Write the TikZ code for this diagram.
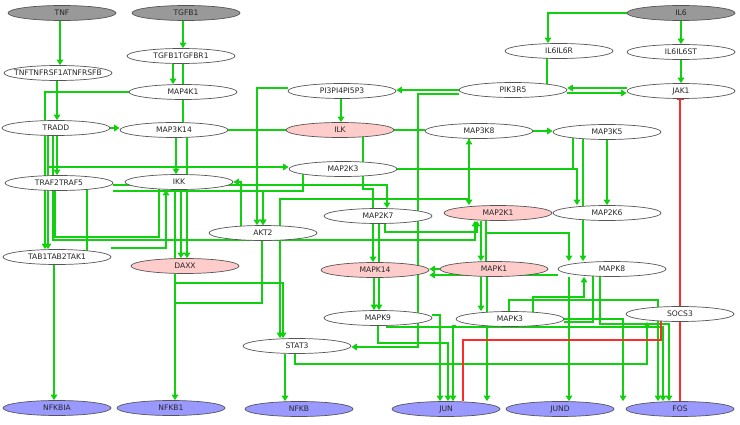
\documentclass[tikz,border=0pt]{standalone}
\usepackage{fontspec}
\setmainfont{DejaVu Sans}
\usetikzlibrary{arrows.meta, shapes.geometric, backgrounds}
\definecolor{cgreen}{HTML}{10D010}
\definecolor{cred}{HTML}{FF2A2A}
\definecolor{cinput}{HTML}{999999}
\definecolor{chit}{HTML}{FFCCCC}
\definecolor{ctarget}{HTML}{9999FF}
\definecolor{cline}{HTML}{555555}
\newcommand{\genelabel}[1]{\makebox[0pt]{#1}}
\tikzset{
  every picture/.style={x=1pt, y=-1pt},
  gene/.style={ellipse, draw=cline, line width=0.7pt, fill=#1, minimum width=108pt, minimum height=15pt,
    inner sep=0pt, font=\fontsize{7.6}{8}\selectfont, text=black!85},
  gene/.default=white,
  act/.style={-{Triangle[length=5.5pt, width=6.5pt]}, draw=cgreen, line width=1.4pt},
  dual/.style={act, {Triangle[length=5.5pt, width=6.5pt]}-{Triangle[length=5.5pt, width=6.5pt]}},
  link/.style={draw=cgreen, line width=1.4pt},
  inh/.style={-{Bar[width=7pt]}, draw=cred, line width=1.4pt},
  repress/.style={draw=cred, line width=1.4pt},
}
\begin{document}
\begin{tikzpicture}
  \useasboundingbox (0,0) rectangle (740,425);
  % ligands and receptors
  \node[gene=cinput] (tnf) at (62,13) {\genelabel{TNF}};
  \node[gene=cinput] (tgfb1) at (186,13) {\genelabel{TGFB1}};
  \node[gene=cinput] (il6) at (681,13) {\genelabel{IL6}};
  \node[gene] (tgfbr) at (181,56) {\genelabel{TGFB1TGFBR1}};
  \node[gene] (il6r) at (559,51) {\genelabel{IL6IL6R}};
  \node[gene] (il6st) at (681,52) {\genelabel{IL6IL6ST}};
  \node[gene] (tnfr) at (58,73) {\genelabel{TNFTNFRSF1ATNFRSFB}};
  \node[gene] (map4k1) at (183,92) {\genelabel{MAP4K1}};
  \node[gene] (pip3) at (342,91) {\genelabel{PI3PI4PI5P3}};
  \node[gene] (pik3r5) at (513,90) {\genelabel{PIK3R5}};
  \node[gene] (jak1) at (681,91) {\genelabel{JAK1}};
  % kinases
  \node[gene] (tradd) at (56,128) {\genelabel{TRADD}};
  \node[gene] (map3k14) at (174,130) {\genelabel{MAP3K14}};
  \node[gene=chit] (ilk) at (340,130) {\genelabel{ILK}};
  \node[gene] (map3k8) at (479,131) {\genelabel{MAP3K8}};
  \node[gene] (map3k5) at (607,132) {\genelabel{MAP3K5}};
  \node[gene] (map2k3) at (343,169) {\genelabel{MAP2K3}};
  \node[gene] (traf) at (59,183) {\genelabel{TRAF2TRAF5}};
  \node[gene] (ikk) at (179,182) {\genelabel{IKK}};
  \node[gene] (map2k7) at (378,216) {\genelabel{MAP2K7}};
  \node[gene=chit] (map2k1) at (498,213) {\genelabel{MAP2K1}};
  \node[gene] (map2k6) at (607,213) {\genelabel{MAP2K6}};
  \node[gene] (akt2) at (263,233) {\genelabel{AKT2}};
  \node[gene] (tab) at (57,257) {\genelabel{TAB1TAB2TAK1}};
  \node[gene=chit] (daxx) at (185,266) {\genelabel{DAXX}};
  \node[gene=chit] (mapk14) at (375,270) {\genelabel{MAPK14}};
  \node[gene=chit] (mapk1) at (494,269) {\genelabel{MAPK1}};
  \node[gene] (mapk8) at (612,269) {\genelabel{MAPK8}};
  \node[gene] (socs3) at (680,314) {\genelabel{SOCS3}};
  \node[gene] (mapk9) at (378,318) {\genelabel{MAPK9}};
  \node[gene] (mapk3) at (510,319) {\genelabel{MAPK3}};
  \node[gene] (stat3) at (297,346) {\genelabel{STAT3}};
  % targets
  \node[gene=ctarget] (nfkbia) at (57,408) {\genelabel{NFKBIA}};
  \node[gene=ctarget] (nfkb1) at (171,408) {\genelabel{NFKB1}};
  \node[gene=ctarget] (nfkb) at (299,409) {\genelabel{NFKB}};
  \node[gene=ctarget] (jun) at (446,409) {\genelabel{JUN}};
  \node[gene=ctarget] (jund) at (560,409) {\genelabel{JUND}};
  \node[gene=ctarget] (fos) at (680,409) {\genelabel{FOS}};

  \begin{scope}[on background layer]
    % receptor level
    \draw[act] (60,0 |- tnf.south) -- (60,0 |- tnfr.north);
    \draw[act] (183,0 |- tgfb1.south) -- (183,0 |- tgfbr.north);
    \draw[act] (il6.west) -| (548,0 |- il6r.north);
    \draw[act] (il6) -- (il6st);
    \draw[act] (il6st) -- (jak1);
    \draw[link] (547,0 |- il6r) -- (547,0 |- pik3r5);
    \draw[act] (jak1.west |- 0,88) -- (pik3r5.east |- 0,88);
    \draw[act] (pik3r5.east |- 0,93) -- (jak1.west |- 0,93);
    \draw[act] (pik3r5.west) -- (pip3.east |- pik3r5.west);
    \draw[act] (pik3r5.west |- 0,94) -| (418,347) -- (stat3.east |- 0,347);
    \draw[act] (341,0 |- pip3.south) -- (341,0 |- ilk.north);
    \draw[act] (pip3.west |- 0,88) -| (257,0 |- akt2.north);
    \draw[act] (173,0 |- tgfbr.south) -- (173,0 |- map4k1.north);
    \draw[link] (183,0 |- tgfbr) -- (183,0 |- map3k14);
    \draw[act] (map4k1.west) -| (45,0 |- tab.north);
    \draw[act] (57,0 |- tnfr.south) -- (57,0 |- tradd.north);
    % TRADD and TRAF
    \draw[act] (tradd.east) -- (map3k14.west |- tradd.east);
    \draw[act] (57,0 |- tradd.south) -- (57,0 |- traf.north);
    \draw[act] (48,0 |- tradd.south) -- (48,0 |- tab.north);
    \draw[act] (48,0 |- tradd) |- (map2k3.west |- 0,167);
    \draw[act] (53,0 |- tradd) |- (475,240) -- (475,0 |- map2k1.south);
    \draw[act] (traf.east |- 0,185) -| (387,0 |- map2k7.north);
    \draw[act] (traf.east |- 0,191) -| (263,0 |- akt2.north);
    \draw[link] (87,0 |- traf) -- (87,0 |- tab);
    \draw[link] (55,0 |- traf) |- (159,237) -- (159,0 |- ikk);
    \draw[act] (54,0 |- tab.south) -- (54,0 |- nfkbia.north);
    \draw[act] (tab.east |- 0,248) -| (166,0 |- ikk.south);
    % IKK branch
    \draw[act] (176,0 |- map3k14.south) -- (176,0 |- ikk.north);
    \draw[act] (187,0 |- map3k14) -- (187,0 |- daxx.north);
    \draw[act] (181,0 |- ikk) -- (181,0 |- daxx.north);
    \draw[act, line width=1.9pt] (175,0 |- ikk) -- (175,0 |- nfkb1.north);
    \draw[act] (175,0 |- daxx) |- (283,283) -- (283,0 |- stat3.north);
    \draw[link] (262,0 |- akt2) |- (175,303);
    \draw[act] (241,0 |- akt2) |- (ikk.east);
    % ILK, MAP3K and MAP2K level
    \draw[link] (map3k14.east) -- (ilk.west |- map3k14.east);
    \draw[link] (ilk.east) -- (map3k8.west |- ilk.east);
    \draw[act] (map3k8.east) -- (map3k5.west |- map3k8.east);
    \draw[link] (363,0 |- ilk) |- (373,189) -- (373,0 |- map2k7);
    \draw[act] (303,0 |- map2k3) |- (263,191) -- (263,0 |- akt2.north);
    \draw[act] (map2k3.east) -| (577,0 |- map2k6.north);
    \draw[link] (573,0 |- map3k5) |- (map2k3.east);
    \draw[act] (607,0 |- map3k5.south) -- (607,0 |- map2k6.north);
    \draw[act] (583,0 |- map3k5) -- (583,0 |- mapk8.north);
    \draw[dual] (469,0 |- map3k8.south) -- (469,0 |- map2k1.north);
    \draw[act] (469,0 |- map3k8) |- (280,199) -- (280,0 |- stat3.north);
    \draw[act] (373,0 |- map2k7.south) -- (373,0 |- mapk14.north);
    \draw[act] (379,0 |- map2k7) -- (379,0 |- mapk9.north);
    \draw[act] (385,0 |- map2k7) |- (477,232) -- (477,0 |- map2k1.south);
    \draw[act] (481,0 |- map2k1.south) -- (481,0 |- mapk1.north);
    \draw[link] (486,0 |- map2k1) -- (486,0 |- mapk1);
    \draw[act] (486,0 |- map2k1) |- (569,233) -- (569,0 |- mapk8.north);
    % MAPK level
    \draw[act] (mapk1.west) -- (mapk14.east |- mapk1.west);
    \draw[act] (mapk8.west |- 0,275) -- (mapk14.east |- 0,275);
    \draw[act] (374,0 |- mapk14.south) -- (374,0 |- mapk9.north);
    \draw[act] (481,0 |- mapk1.south) -- (481,0 |- mapk3.north);
    \draw[act] (487,0 |- mapk1) -- (487,0 |- jun.north);
    \draw[act] (378,0 |- mapk9) |- (448,343) -- (448,0 |- jun.north);
    \draw[act] (mapk9.east |- 0,315) -| (440,0 |- jun.north);
    \draw[act] (387,0 |- mapk9) |- (663,327) -- (663,0 |- fos.north);
    \draw[act] (509,0 |- mapk3) |- (658,300) -- (658,0 |- fos.north);
    \draw[act] (533,0 |- mapk3) |- (584,297) -- (584,0 |- mapk8.south);
    \draw[act] (mapk3.west |- 0,326) -| (453,0 |- jun.north);
    \draw[act] (mapk3.east |- 0,319) -| (623,0 |- fos.north);
    \draw[act] (569,0 |- mapk8.south) -- (569,0 |- jund.north);
    \draw[link] (593,0 |- mapk8) |- (mapk3.east |- 0,322);
    \draw[act] (600,0 |- mapk8) |- (669,324) -- (669,0 |- fos.north);
    % STAT3 and SOCS3
    \draw[act] (285,0 |- stat3.south) -- (285,0 |- nfkb.north);
    \draw[act] (295,0 |- stat3) |- (647,364) -- (647,0 |- socs3.south);
    \draw[inh] (680,0 |- fos.north) -- (680,0 |- jak1.south);
    \draw[repress] (661,0 |- socs3) |- (463,340) -- (463,0 |- jun.north);
  \end{scope}
\end{tikzpicture}
\end{document}
